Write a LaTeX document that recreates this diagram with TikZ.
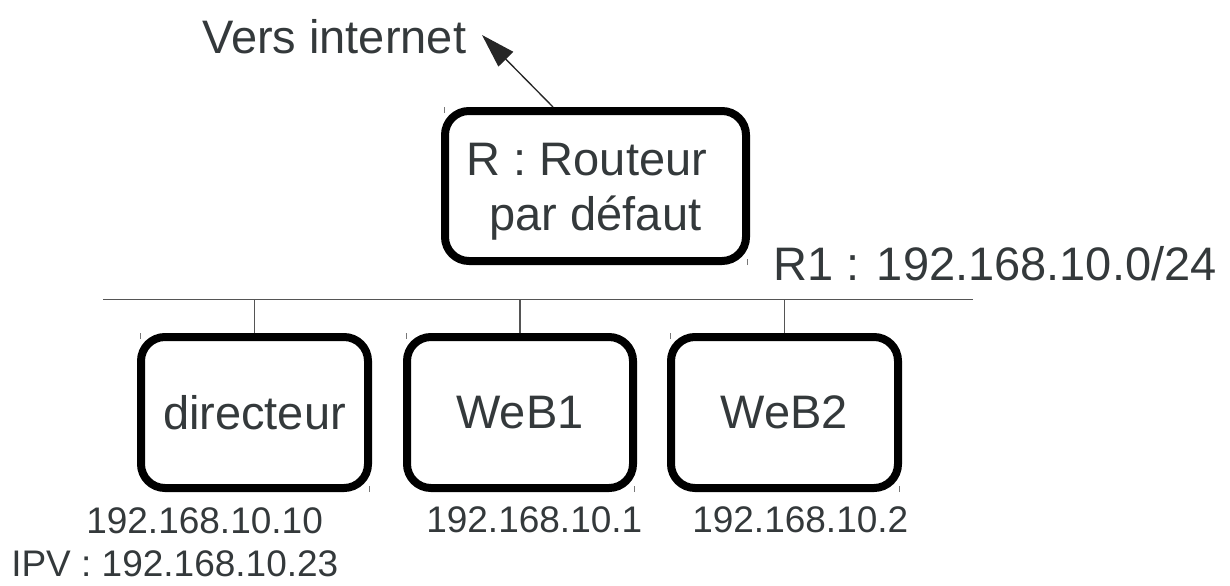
\documentclass[tikz,border=0pt]{standalone}
\usepackage{fontspec}
\setmainfont{Liberation Sans}
\usetikzlibrary{arrows.meta,calc}

\definecolor{ink}{RGB}{52,57,59}
\definecolor{wire}{RGB}{85,85,85}
\definecolor{tick}{RGB}{120,120,120}

\tikzset{
  hostbox/.style={draw=black, line width=6pt, rounded corners=18pt,
                  fill=white, inner sep=0pt},
  bigtxt/.style={text=ink, inner sep=0pt, font=\fontsize{35.25pt}{41.25pt}\selectfont},
  smalltxt/.style={text=ink, inner sep=0pt, font=\fontsize{27.75pt}{33pt}\selectfont},
  wireline/.style={draw=wire, line width=1pt},
  marker/.style={draw=tick, line width=0.6pt},
}

% small corner marks at the top-left and bottom-right of a box
\newcommand\boxmarks[1]{%
  \draw[marker] ($(#1.north west)+(3,0)$) -- ++(0,6);
  \draw[marker] ($(#1.south east)+(-3,0)$) -- ++(0,-6);
}

\begin{document}
\begin{tikzpicture}[x=0.75pt,y=-0.75pt]
  \useasboundingbox (0,0) rectangle (1230,585);

  % router
  \node[hostbox, minimum width=301*0.75pt, minimum height=150*0.75pt] (R) at (595.5,186) {};
  \node[bigtxt, anchor=base] (Rl1) at (587,175) {R : Routeur};
  \node[bigtxt, anchor=base] (Rl2) at (595.5,230) {par défaut};
  \boxmarks{R}

  % uplink
  \node[bigtxt, anchor=base west] (inet) at (202,54) {Vers internet};
  \coordinate (up) at (482,35);
  \draw[line width=1pt, draw=black!85, -{Triangle[length=25.5pt,width=15.5pt]}]
    ($(R.north)+(-42.5,0)$) -- (up);

  % network bus
  \coordinate (busL) at (103,299.5);
  \coordinate (busR) at (973,299.5);
  \draw[wireline] (busL) -- (busR);
  \node[bigtxt, anchor=base west] (net) at (773,280) {R1 : 192.168.10.0/24};

  % hosts
  \node[hostbox, minimum width=227*0.75pt, minimum height=151*0.75pt] (dir) at (254.5,412.5) {};
  \node[hostbox, minimum width=226*0.75pt, minimum height=151*0.75pt] (w1) at (520,412.5) {};
  \node[hostbox, minimum width=227*0.75pt, minimum height=151*0.75pt] (w2) at (784.5,412.5) {};
  \node[bigtxt] (dirt) at (dir.center) {directeur};
  \node[bigtxt] (w1t) at (w1.center) {WeB1};
  \node[bigtxt] (w2t) at (w2.center) {WeB2};
  \boxmarks{dir}
  \boxmarks{w1}
  \boxmarks{w2}

  % drops to the bus
  \draw[wireline] ($(R.south)+(-39,0)$) -- ($(R.south)+(-39,0)$ |- busL);
  \draw[wireline] (dir.north) -- (dir.north |- busL);
  \draw[wireline] (w1.north) -- (w1.north |- busL);
  \draw[wireline] (w2.north) -- (w2.north |- busL);

  % addresses
  \node[smalltxt, anchor=base west] (a1) at (86,533) {192.168.10.10};
  \node[smalltxt, anchor=base west] (a2) at (426,532) {192.168.10.1};
  \node[smalltxt, anchor=base west] (a3) at (692,532) {192.168.10.2};
  \node[smalltxt, anchor=base west] (ipv) at (11,576) {IPV : 192.168.10.23};
\end{tikzpicture}
\end{document}
